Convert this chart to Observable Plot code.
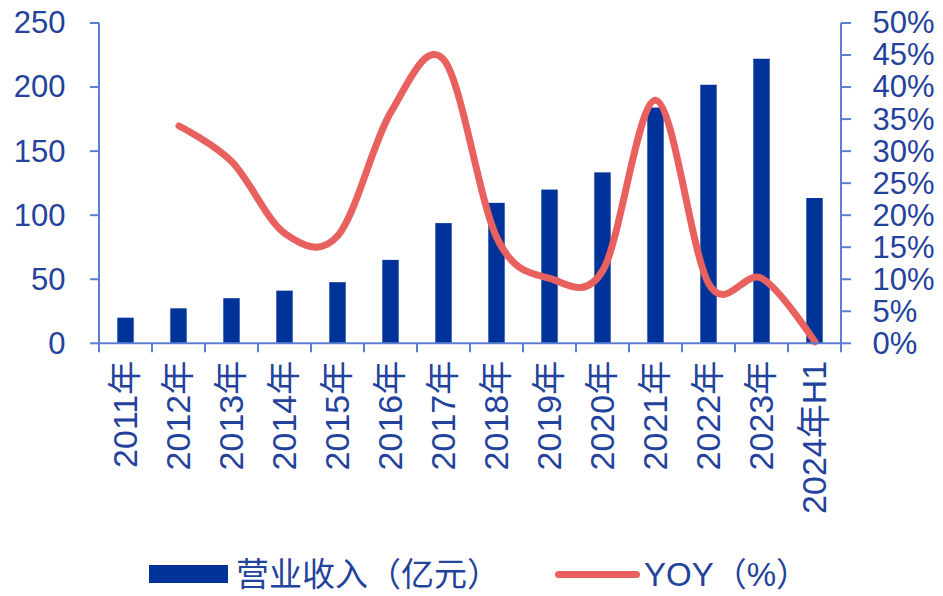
<!DOCTYPE html>
<html><head><meta charset="utf-8">
<script src="https://cdn.jsdelivr.net/npm/d3@7"></script>
<script src="https://cdn.jsdelivr.net/npm/@observablehq/plot@0.6"></script>
<style>
body{margin:0;background:#fff;}
#wrap{position:relative;width:943px;height:596px;overflow:hidden;font-family:"Liberation Sans",Arial,"Noto Sans CJK SC",sans-serif;color:#23429c;}
#chart svg{display:block;}
.sw-bar{position:absolute;left:149px;top:565px;width:79px;height:18px;background:#003399;}
.sw-line{position:absolute;left:555px;top:571px;width:85px;height:7px;border-radius:4px;background:#e8615f;}
.lt{position:absolute;top:555px;font-size:33px;line-height:40px;white-space:nowrap;}
</style></head>
<body><div id="wrap"><div id="chart"></div>
<div class="sw-bar"></div><div class="lt" id="l1" style="left:236px"></div>
<div class="sw-line"></div><div class="lt" id="l2" style="left:644px"></div>
</div>
<script>
const categories = ["2011年","2012年","2013年","2014年","2015年","2016年","2017年","2018年","2019年","2020年","2021年","2022年","2023年","2024年H1"];
const revenue = [20, 27.3, 35.2, 41.1, 47.7, 65.1, 93.8, 109.6, 120, 133.4, 184, 201.8, 222.1, 113.4];
const yoy = [null, 34.0, 28.4, 17.2, 16.9, 36.2, 44.3, 16.5, 10.2, 11.5, 38.0, 9.3, 10.2, 0.3];
const leftTicks = [0, 50, 100, 150, 200, 250];
const rightTicks = [0, 5, 10, 15, 20, 25, 30, 35, 40, 45, 50];
const legendLabels = ["营业收入（亿元）", "YOY（%）"];

const TEXT = "#23429c", BAR = "#003399", AXIS = "#5b80d2", RED = "#e8615f";
const k = 250 / 50; // right axis (%) mapped onto left axis units

const rows = categories.map((c, i) => ({cat: c, rev: revenue[i], yoy: yoy[i]}));
const lineRows = rows.filter(d => d.yoy != null);

function axisLines(index, scales, values, dims) {
  const x = scales.x, y = scales.y;
  const g = d3.create("svg:g").attr("stroke", AXIS).attr("stroke-width", 2).attr("fill", "none");
  const bw = x(categories[1]) - x(categories[0]);
  const left = x(categories[0]);
  const right = x(categories[categories.length - 1]) + bw;
  const y0 = y(0), yTop = y(250);
  g.append("line").attr("x1", left).attr("x2", left).attr("y1", yTop).attr("y2", y0);
  g.append("line").attr("x1", right).attr("x2", right).attr("y1", yTop).attr("y2", y0);
  g.append("line").attr("x1", left).attr("x2", right).attr("y1", y0).attr("y2", y0);
  for (const v of leftTicks) g.append("line").attr("x1", left - 9).attr("x2", left).attr("y1", y(v)).attr("y2", y(v));
  for (const v of rightTicks) g.append("line").attr("x1", right).attr("x2", right + 10).attr("y1", y(v * k)).attr("y2", y(v * k));
  const bounds = categories.map(c => x(c)).concat([right]);
  for (const b of bounds) g.append("line").attr("x1", b).attr("x2", b).attr("y1", y0).attr("y2", y0 + 9);
  return g.node();
}

const chart = Plot.plot({
  width: 943,
  height: 540,
  marginLeft: 96,
  marginRight: 99,
  marginTop: 23,
  marginBottom: 196.7,
  style: {color: TEXT, fontFamily: '"Liberation Sans", Arial, "Noto Sans CJK SC", sans-serif', background: "#fff"},
  x: {domain: categories, padding: 0, axis: null},
  y: {domain: [0, 250], axis: null},
  marks: [
    Plot.barY(rows, {x: "cat", y: "rev", fill: BAR, insetLeft: 18.3, insetRight: 18.3}),
    Plot.line(lineRows, {x: "cat", y: d => d.yoy * k, stroke: RED, strokeWidth: 7, curve: "cardinal", strokeLinecap: "round", strokeLinejoin: "round"}),
    axisLines,
    Plot.axisY(leftTicks, {anchor: "left", label: null, tickSize: 0, tickPadding: 31, fontSize: 31, fill: TEXT}),
    Plot.axisY(rightTicks.map(v => v * k), {anchor: "right", label: null, tickSize: 0, tickPadding: 28, fontSize: 31, fill: TEXT, tickFormat: d => (d / k) + "%"}),
    Plot.axisX({anchor: "bottom", label: null, tickSize: 0, tickPadding: 17, tickRotate: -90, fontSize: 34, fill: TEXT})
  ]
});
document.getElementById("chart").appendChild(chart);
document.getElementById("l1").textContent = legendLabels[0];
document.getElementById("l2").textContent = legendLabels[1];
</script></body></html>
